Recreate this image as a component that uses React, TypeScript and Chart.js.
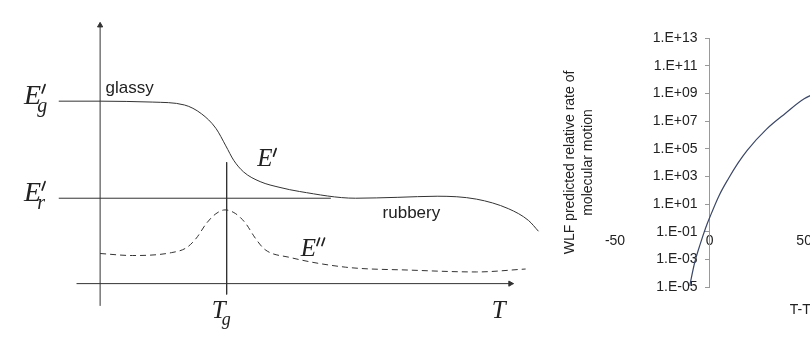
import React, { useEffect, useRef } from "react";
import { Chart, registerables } from "chart.js";

Chart.register(...registerables);

// ---------- Left schematic: E' and E'' vs T ----------
const ePrime = [
  { x: 0, y: 100 }, { x: 12.6, y: 99.5 }, { x: 20.4, y: 97.9 }, { x: 24.5, y: 93.1 },
  { x: 28, y: 85.1 }, { x: 30.4, y: 75.5 }, { x: 32.3, y: 67.6 }, { x: 34.7, y: 61.2 },
  { x: 38.7, y: 55.9 }, { x: 43.5, y: 52.7 }, { x: 48.2, y: 50.5 }, { x: 61.8, y: 46.8 },
  { x: 72, y: 47.3 }, { x: 81.5, y: 47.9 }, { x: 91, y: 46.3 }, { x: 98.8, y: 41 },
  { x: 103.6, y: 34.6 }, { x: 106, y: 28.7 },
];
const eDoublePrime = [
  { x: 0, y: 16.5 }, { x: 7.8, y: 15.4 }, { x: 17.3, y: 17 }, { x: 20.9, y: 19.7 },
  { x: 23.3, y: 25 }, { x: 25.7, y: 33 }, { x: 28, y: 38.3 }, { x: 30.2, y: 40.4 },
  { x: 32.8, y: 38.3 }, { x: 35.2, y: 33 }, { x: 37.5, y: 25 }, { x: 39.9, y: 18.6 },
  { x: 45.8, y: 14.4 }, { x: 59.4, y: 9 }, { x: 75, y: 7.4 }, { x: 91, y: 6.4 }, { x: 102.9, y: 8 },
];
const yAxisLine = [{ x: 0, y: -12.2 }, { x: 0, y: 143 }];
const xAxisLine = [{ x: -5.7, y: 0 }, { x: 100, y: 0 }];
const egLine = [{ x: -10, y: 100 }, { x: 0, y: 100 }];
const erLine = [{ x: -10, y: 46.8 }, { x: 55.8, y: 46.8 }];
const tgLine = [{ x: 30.6, y: 66.5 }, { x: 30.6, y: -5.9 }];
const arrowUp = [{ x: 0, y: 141.5 }];
const arrowRight = [{ x: 99.2, y: 0 }];

// math labels: [main, sub, primes, x, y, size]
const mathLabels: [string, string, number, number, number, number][] = [
  ["E", "g", 1, -18.4, 98.4, 28],
  ["E", "r", 1, -18.4, 45.2, 28],
  ["E", "", 1, 38.0, 64.4, 25],
  ["E", "", 2, 48.5, 15.4, 25],
  ["T", "g", 0, 27.0, -19.1, 25],
  ["T", "", 0, 94.7, -19.1, 25],
];
const textLabels: [string, number, number][] = [
  ["glassy", 1.3, 106.9],
  ["rubbery", 68.3, 38.8],
];

// ---------- Right chart: WLF ----------
const wlfX = [-10.5, -8, -5, -2, 0, 5, 10, 15, 20, 30, 40, 50, 60, 80, 100, 125, 150];
const wlfY = [1.2e-5, 5e-4, 1.2e-2, 0.2, 1, 40, 7e2, 9e3, 8e4, 2.5e6, 3.5e7, 4e8, 1.6e9, 2e10, 1.5e11, 7e11, 2.5e12];
const yTickValues = [1e-5, 1e-3, 1e-1, 1e1, 1e3, 1e5, 1e7, 1e9, 1e11, 1e13];
const yTitleLines = ["WLF predicted relative rate of", "molecular motion"];
const xTitle = "T-Tg";

const INK = "#333";

function fmtExp(v: number) {
  const e = Math.round(Math.log10(v));
  const s = e >= 0 ? "+" : "-";
  const a = Math.abs(e);
  return "1.E" + s + (a < 10 ? "0" + a : "" + a);
}

function drawPrime(ctx: CanvasRenderingContext2D, x: number, yTop: number, len: number) {
  ctx.beginPath();
  ctx.moveTo(x + len * 0.35, yTop);
  ctx.lineTo(x, yTop + len);
  ctx.lineWidth = 1.7;
  ctx.lineCap = "round";
  ctx.stroke();
}

const leftLabelPlugin = {
  id: "leftLabels",
  afterDatasetsDraw(chart: any) {
    const { ctx, scales } = chart;
    const sx = scales.x, sy = scales.y;
    ctx.save();
    ctx.fillStyle = "#222";
    ctx.strokeStyle = "#222";
    ctx.textBaseline = "alphabetic";
    ctx.textAlign = "left";
    for (const [main, sub, primes, x, y, size] of mathLabels) {
      const px = sx.getPixelForValue(x);
      const py = sy.getPixelForValue(y);
      ctx.font = `italic ${size}px "Liberation Serif", "DejaVu Serif", serif`;
      ctx.fillText(main, px, py);
      const w = ctx.measureText(main).width;
      const capTop = py - size * 0.66;
      for (let k = 0; k < primes; k++) {
        drawPrime(ctx, px + w + 1 + k * 5, capTop - 1, size * 0.3);
      }
      if (sub) {
        ctx.font = `italic ${Math.round(size * 0.72)}px "Liberation Serif", serif`;
        ctx.fillText(sub, px + w - 4, py + size * 0.28);
      }
    }
    ctx.font = `17px "Liberation Sans", Arial, sans-serif`;
    ctx.textBaseline = "middle";
    for (const [t, x, y] of textLabels) {
      ctx.fillText(t, sx.getPixelForValue(x), sy.getPixelForValue(y));
    }
    ctx.restore();
  },
};

const rightTitlePlugin = {
  id: "rightTitles",
  beforeDraw(chart: any) {
    // shift y tick labels left of the axis line
    const ys = chart.scales.y;
    const items = ys.getLabelItems(chart.chartArea);
    for (const it of items) {
      if (!it._shifted) {
        it.options.translation[0] -= 12;
        it._shifted = true;
      }
    }
  },
  afterDraw(chart: any) {
    const { ctx, chartArea } = chart;
    ctx.save();
    ctx.fillStyle = "#222";
    ctx.font = `14px "Liberation Sans", Arial, sans-serif`;
    ctx.textAlign = "center";
    ctx.textBaseline = "middle";
    const cy = (chartArea.top + chartArea.bottom) / 2;
    ctx.translate(chartArea.left - 45, cy);
    ctx.rotate(-Math.PI / 2);
    ctx.fillText(yTitleLines[0], 0, 0);
    ctx.fillText(yTitleLines[1], 0, 18);
    ctx.restore();
    ctx.save();
    ctx.fillStyle = "#222";
    ctx.font = `14px "Liberation Sans", Arial, sans-serif`;
    ctx.textAlign = "center";
    ctx.textBaseline = "middle";
    ctx.fillText(xTitle, (chartArea.left + chartArea.right) / 2, chartArea.bottom + 23);
    ctx.restore();
  },
};

function lineDs(data: any[], extra: any = {}) {
  return {
    data,
    showLine: true,
    borderColor: INK,
    borderWidth: 1,
    pointRadius: 0,
    fill: false,
    ...extra,
  };
}

export default function App() {
  const leftRef = useRef<HTMLCanvasElement>(null);
  const rightRef = useRef<HTMLCanvasElement>(null);

  useEffect(() => {
    const left = new Chart(leftRef.current!, {
      type: "scatter",
      data: {
        datasets: [
          lineDs(ePrime, { tension: 0.4, cubicInterpolationMode: "monotone" }),
          lineDs(eDoublePrime, { tension: 0.4, cubicInterpolationMode: "monotone", borderDash: [6, 4] }),
          lineDs(yAxisLine),
          lineDs(xAxisLine),
          lineDs(egLine),
          lineDs(erLine),
          lineDs(tgLine),
          { data: arrowUp, pointStyle: "triangle", pointRadius: 3, backgroundColor: INK, borderColor: INK, borderWidth: 1, rotation: 0 },
          { data: arrowRight, pointStyle: "triangle", pointRadius: 3, backgroundColor: INK, borderColor: INK, borderWidth: 1, rotation: 90 },
        ] as any,
      },
      options: {
        animation: false,
        responsive: false,
        layout: { padding: 0 },
        plugins: { legend: { display: false }, tooltip: { enabled: false } },
        scales: {
          x: { type: "linear", min: -23, max: 110, display: false },
          y: { type: "linear", min: -30.9, max: 152.7, display: false },
        },
      },
      plugins: [leftLabelPlugin],
    });

    const right = new Chart(rightRef.current!, {
      type: "scatter",
      data: {
        datasets: [
          {
            data: wlfX.map((x, i) => ({ x, y: wlfY[i] })),
            showLine: true,
            borderColor: "#3b4766",
            borderWidth: 1.2,
            pointRadius: 0,
            tension: 0.4,
            cubicInterpolationMode: "monotone",
          } as any,
        ],
      },
      options: {
        animation: false,
        responsive: false,
        layout: { padding: { left: 75, right: 20, top: 38, bottom: 58 } },
        plugins: { legend: { display: false }, tooltip: { enabled: false } },
        scales: {
          x: {
            type: "linear",
            min: -50,
            max: 150,
            position: { y: 1 } as any,
            border: { display: false },
            grid: { display: false, drawTicks: false },
            ticks: {
              stepSize: 50,
              padding: 15,
              color: "#222",
              font: { family: '"Liberation Sans", Arial, sans-serif', size: 14 },
            },
          },
          y: {
            type: "logarithmic",
            min: 1e-5,
            max: 1e13,
            position: { x: 0 } as any,
            border: { display: true, color: "#999", width: 1 },
            grid: { drawOnChartArea: false, drawTicks: true, tickLength: 4, color: "#999" },
            afterBuildTicks: (axis: any) => {
              axis.ticks = yTickValues.map((v) => ({ value: v }));
            },
            ticks: {
              padding: 8,
              color: "#222",
              font: { family: '"Liberation Sans", Arial, sans-serif', size: 14 },
              callback: (v: any) => fmtExp(Number(v)),
            },
          },
        },
      },
      plugins: [rightTitlePlugin],
    });

    return () => {
      left.destroy();
      right.destroy();
    };
  }, []);

  return (
    <div style={{ position: "absolute", left: 0, top: 0, width: 810, height: 345, overflow: "hidden", background: "#fff" }}>
      <canvas ref={leftRef} width={560} height={345} style={{ position: "absolute", left: 0, top: 0 }} />
      <canvas ref={rightRef} width={480} height={345} style={{ position: "absolute", left: 540, top: 0 }} />
    </div>
  );
}
